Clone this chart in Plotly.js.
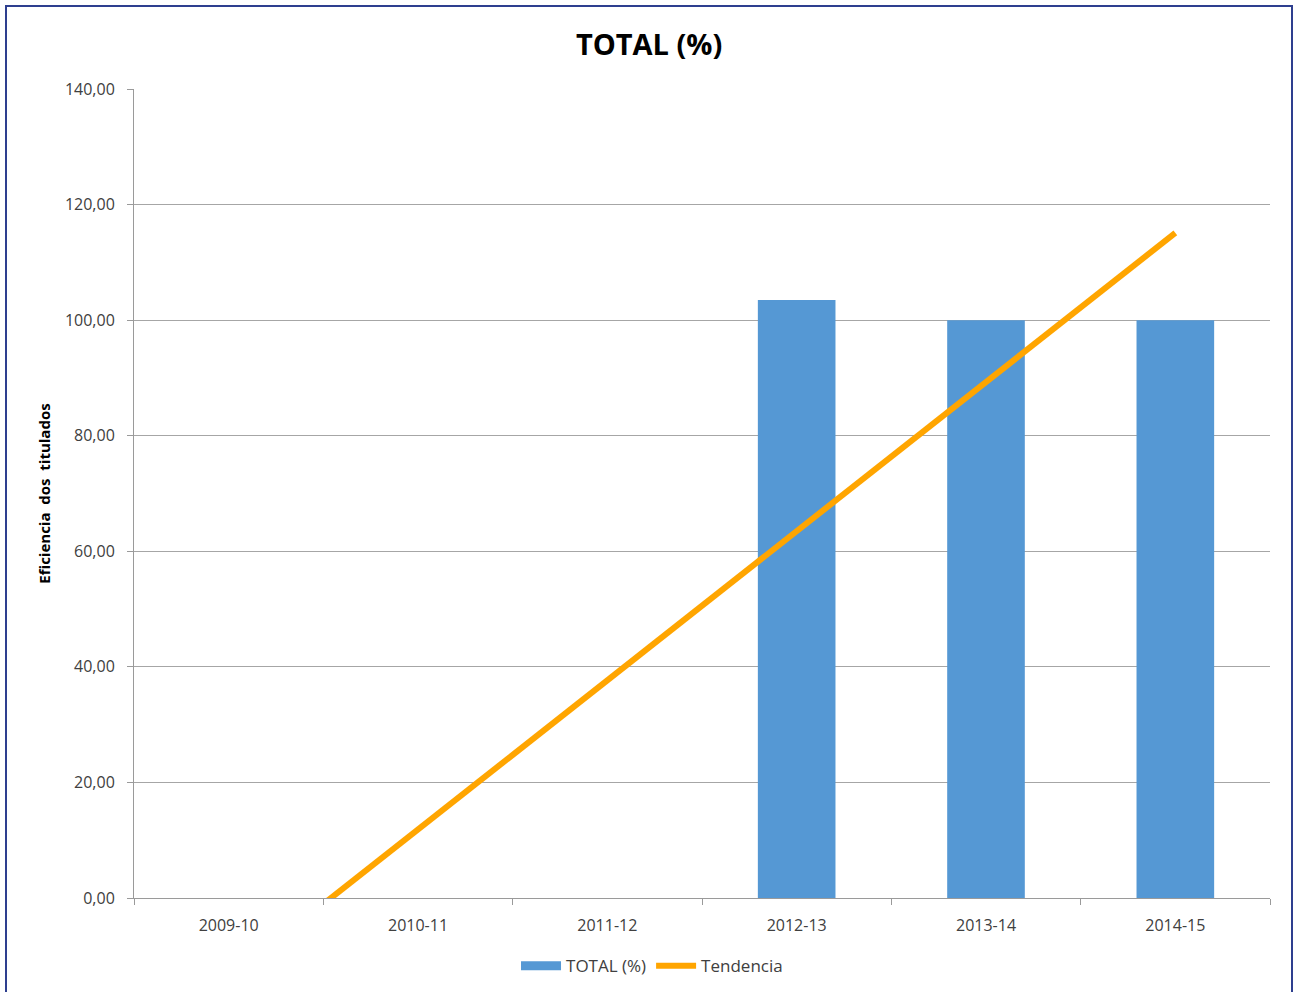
<!DOCTYPE html>
<html>
<head>
<meta charset="utf-8">
<script src="https://cdn.plot.ly/plotly-3.0.1.min.js"></script>
<style>
  html, body { margin: 0; padding: 0; background: #ffffff; overflow: hidden; }
  #chart { width: 1293px; height: 992px; }
  #frame { position: absolute; left: 5px; top: 5px; width: 1288px; height: 1000px;
           border: 2px solid #2e3f8f; pointer-events: none; box-sizing: border-box; }
</style>
</head>
<body>
<div id="chart"></div>
<div id="frame"></div>
<script>
const categories = ["2009-10", "2010-11", "2011-12", "2012-13", "2013-14", "2014-15"];
const totalValues = [0, 0, 0, 103.5, 100, 100];
const trendValues = [-13.95, 11.86, 37.67, 63.48, 89.29, 115.1];
const yTickValues = [0, 20, 40, 60, 80, 100, 120, 140];
const yTickLabels = ["0,00", "20,00", "40,00", "60,00", "80,00", "100,00", "120,00", "140,00"];

const fontFamily = "'Open Sans', 'Liberation Sans', sans-serif";
const barColor = "#5598d4";

const data = [
  {
    type: "bar",
    name: "TOTAL (%)",
    x: categories,
    y: totalValues,
    marker: { color: barColor, line: { width: 0 } },
    showlegend: false,
    hoverinfo: "x+y"
  },
  {
    // legend proxy so the bar key is drawn as a wide rectangle, as in the reference
    type: "scatter",
    mode: "lines",
    name: "TOTAL (%)",
    x: [null],
    y: [null],
    line: { color: barColor, width: 9 },
    showlegend: true,
    hoverinfo: "skip"
  },
  {
    type: "scatter",
    mode: "lines",
    name: "Tendencia",
    x: categories,
    y: trendValues,
    line: { color: "#ffa500", width: 6 },
    hoverinfo: "x+y"
  }
];

const layout = {
  width: 1293,
  height: 992,
  paper_bgcolor: "#ffffff",
  plot_bgcolor: "#ffffff",
  margin: { l: 134, r: 23, t: 89, b: 94, autoexpand: false },
  bargap: 0.59,
  showlegend: true,
  title: {
    text: "<b>TOTAL (%)</b>",
    x: 0.502,
    xanchor: "center",
    y: 0.955,
    yanchor: "middle",
    font: { family: fontFamily, size: 29, color: "#000000" }
  },
  font: { family: fontFamily, size: 13, color: "#404040" },
  xaxis: {
    type: "category",
    range: [-0.5, 5.5],
    automargin: false,
    showgrid: false,
    showline: true,
    linecolor: "#9a9a9a",
    linewidth: 1,
    ticks: "outside",
    tickson: "boundaries",
    ticklen: 6,
    tickcolor: "#9a9a9a",
    ticklabelstandoff: 13,
    tickfont: { family: fontFamily, size: 16, color: "#404040" },
    zeroline: false,
    fixedrange: true
  },
  yaxis: {
    range: [0, 140],
    automargin: false,
    tickvals: yTickValues,
    ticktext: yTickLabels,
    showgrid: true,
    gridcolor: "#a6a6a6",
    gridwidth: 1,
    showline: true,
    linecolor: "#9a9a9a",
    linewidth: 1,
    ticks: "outside",
    ticklen: 6,
    tickcolor: "#9a9a9a",
    ticklabelstandoff: 9,
    tickfont: { family: fontFamily, size: 16, color: "#404040" },
    zeroline: false,
    title: {
      text: "<b>Eficiencia  dos  titulados</b>",
      standoff: 10,
      font: { family: fontFamily, size: 15, color: "#000000" }
    },
    fixedrange: true
  },
  legend: {
    orientation: "h",
    x: 0.456,
    xanchor: "center",
    y: -0.062,
    yanchor: "top",
    font: { family: fontFamily, size: 17, color: "#404040" },
    itemwidth: 40,
    tracegroupgap: 0
  }
};

Plotly.newPlot("chart", data, layout, { displayModeBar: false, staticPlot: true });
</script>
</body>
</html>
